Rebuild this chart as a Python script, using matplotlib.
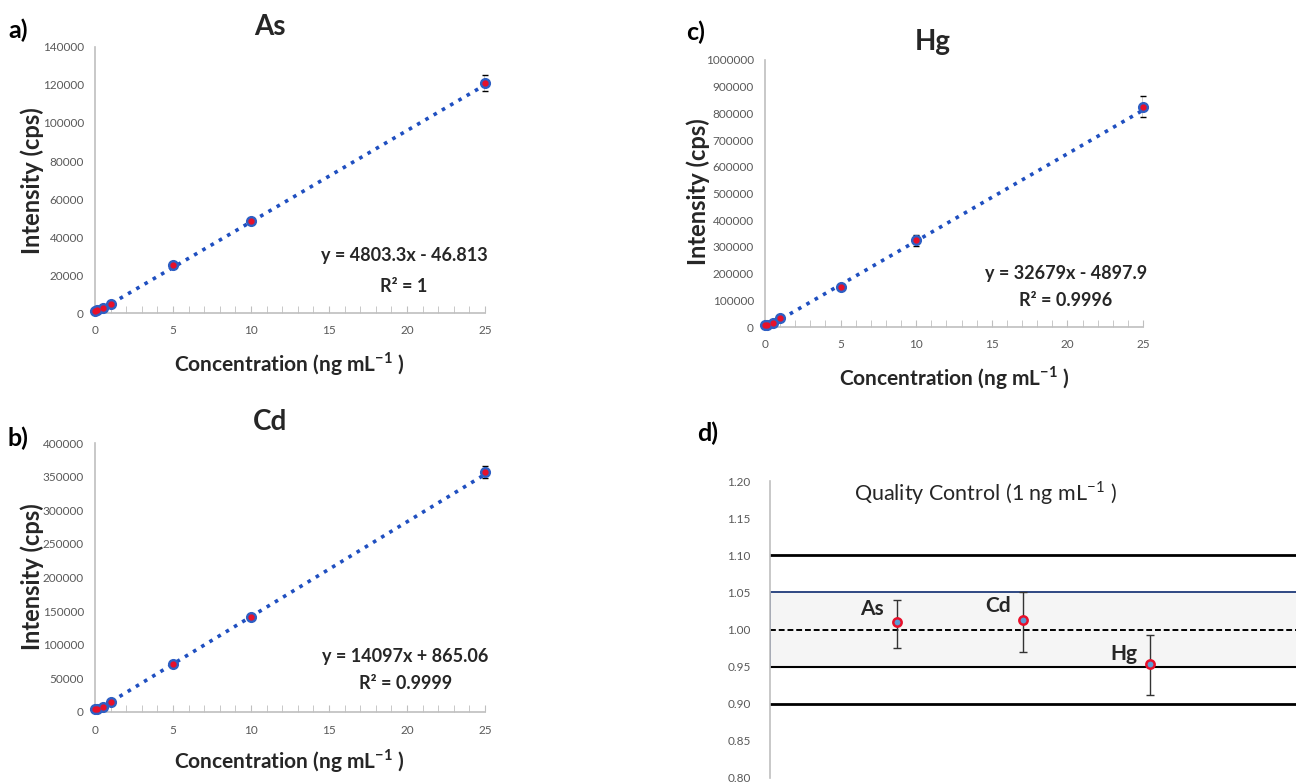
import matplotlib
matplotlib.use("Agg")
import matplotlib.pyplot as plt
import numpy as np
from matplotlib.patches import Rectangle

plt.rcParams['font.family'] = ['Lato', 'DejaVu Sans']
plt.rcParams['mathtext.fontset'] = 'custom'
plt.rcParams['mathtext.rm'] = 'Lato'
plt.rcParams['mathtext.bf'] = 'Lato:bold'

# calibration data
conc = [0, 0.1, 0.5, 1, 5, 10, 25]
as_int = [800, 1500, 2800, 4900, 25500, 48300, 121000]
as_err = [300, 300, 300, 400, 800, 1000, 4000]
cd_int = [4000, 5000, 8000, 15500, 72000, 142000, 357000]
cd_err = [800, 800, 1000, 1500, 3000, 4000, 9000]
hg_int = [8000, 9000, 16000, 33000, 150000, 325000, 825000]
hg_err = [2000, 2000, 3000, 6000, 12000, 20000, 40000]

# trend line coefficients (from the equations shown)
as_fit = (4803.3, -46.813)
cd_fit = (14097, 865.06)
hg_fit = (32679, -4897.9)

# quality control data
qc_names = ['As', 'Cd', 'Hg']
qc_val = [1.010, 1.013, 0.953]
qc_lo = [0.975, 0.970, 0.912]
qc_hi = [1.040, 1.050, 0.993]

W, H = 1296, 783
fig = plt.figure(figsize=(W / 100, H / 100), dpi=100)


def box(l, t, r, b):
    return [l / W, 1 - b / H, (r - l) / W, (b - t) / H]


def ftext(x, y, s, **kw):
    fig.text(x / W, 1 - y / H, s, ha='center', va='center', **kw)


GRAY = '#595959'
SPINE = '#bfbfbf'
DARK = '#262626'
xl = 'Concentration (ng mL$^{\\mathbf{-1}}$ )'


def calib(rect, vals, errs, fit, ymax, ystep, eq, r2, eqpos):
    ax = fig.add_axes(rect)
    xs = np.array([0, 25])
    ax.plot(xs, fit[0] * xs + fit[1], ':', color='#1f4fc0', lw=2.6, zorder=2)
    ax.errorbar(conc, vals, yerr=errs, fmt='none', ecolor='black', elinewidth=1,
                capsize=2.5, zorder=3)
    ax.plot(conc, vals, 'o', color='#2e5fc4', ms=7, zorder=4)
    ax.plot(conc, vals, 'o', color='#e8102a', ms=3.5, zorder=5)
    ax.set_xlim(0, 25)
    ax.set_ylim(0, ymax)
    ax.set_xticks(range(0, 26, 5))
    ax.set_xticks(range(0, 26), minor=True)
    ax.set_yticks(np.arange(0, ymax + 1, ystep))
    ax.set_yticklabels(['%d' % v for v in np.arange(0, ymax + 1, ystep)])
    ax.tick_params(axis='x', which='both', direction='in', length=5, color=SPINE,
                   labelsize=8.5, labelcolor=GRAY, pad=9)
    ax.tick_params(axis='y', length=0, labelsize=8.5, labelcolor=GRAY, pad=8)
    for s in ['top', 'right']:
        ax.spines[s].set_visible(False)
    for s in ['left', 'bottom']:
        ax.spines[s].set_color(SPINE)
        ax.spines[s].set_linewidth(1.2)
    for line in ax.lines:
        line.set_clip_on(False)
    ax.text(eqpos[0], eqpos[1], eq, ha='center', va='center', fontsize=13,
            fontweight='bold', color=DARK)
    ax.text(eqpos[0], eqpos[2], r2, ha='center', va='center', fontsize=13,
            fontweight='bold', color=DARK)
    return ax


calib(box(95, 47, 485, 313), as_int, as_err, as_fit, 140000, 20000,
      'y = 4803.3x - 46.813', 'R² = 1', (19.8, 30000, 14200))
calib(box(95, 443, 485, 712), cd_int, cd_err, cd_fit, 400000, 50000,
      'y = 14097x + 865.06', 'R² = 0.9999', (19.9, 81800, 43100))
calib(box(765, 60, 1143, 327), hg_int, hg_err, hg_fit, 1000000, 100000,
      'y = 32679x - 4897.9', 'R² = 0.9996', (19.9, 202000, 101000))

# panel labels, titles, axis labels
for lab, x, y in [('a)', 18, 30), ('b)', 18, 438), ('c)', 696, 32), ('d)', 708, 433)]:
    ftext(x, y, lab, fontsize=18, fontweight='bold', color='black')
ftext(270, 27, 'As', fontsize=20, fontweight='bold', color=DARK)
ftext(270, 422, 'Cd', fontsize=20, fontweight='bold', color=DARK)
ftext(933, 42, 'Hg', fontsize=20, fontweight='bold', color=DARK)
ftext(289, 364, xl, fontsize=15, fontweight='bold', color=DARK)
ftext(289, 761, xl, fontsize=15, fontweight='bold', color=DARK)
ftext(954, 378, xl, fontsize=15, fontweight='bold', color=DARK)
ftext(32, 181, 'Intensity (cps)', fontsize=17, fontweight='bold', color=DARK,
      rotation=90)
ftext(32, 577, 'Intensity (cps)', fontsize=17, fontweight='bold', color=DARK,
      rotation=90)
ftext(698, 192, 'Intensity (cps)', fontsize=17, fontweight='bold', color=DARK,
      rotation=90)

# quality control panel
ax = fig.add_axes(box(770, 481, 1296, 778))
xq = np.arange(1, len(qc_names) + 1)
ax.set_xlim(0, 4.15)
ax.set_ylim(0.80, 1.20)
ax.add_patch(Rectangle((0, 0.95), 5, 0.10, facecolor='#f5f5f5', edgecolor='#1f3a7a',
                       lw=1.3, zorder=1))
ax.axhline(0.95, color='black', lw=1.5, zorder=2)
ax.axhline(1.10, color='black', lw=2, zorder=2)
ax.axhline(0.90, color='black', lw=2, zorder=2)
ax.axhline(1.00, color='black', lw=1.4, ls=(0, (3, 1.5)), zorder=2)
yerr = [np.array(qc_val) - np.array(qc_lo), np.array(qc_hi) - np.array(qc_val)]
ax.errorbar(xq, qc_val, yerr=yerr, fmt='none', ecolor='#333333', elinewidth=1,
            capsize=3, zorder=3)
ax.plot(xq, qc_val, 'o', mfc='#5b9bd5', mec='#e8102a', mew=1.8, ms=6, zorder=4)
for i, name in enumerate(qc_names):
    dy = 0.018 if name != 'Hg' else 0.014
    ax.text(xq[i] - 0.1, qc_val[i] + dy, name, ha='right', va='center', fontsize=15,
            fontweight='bold', color=DARK)
ax.set_yticks(np.arange(0.80, 1.201, 0.05))
ax.set_yticklabels(['%.2f' % v for v in np.arange(0.80, 1.201, 0.05)])
ax.set_xticks([])
ax.tick_params(axis='y', length=0, labelsize=8.5, labelcolor=GRAY, pad=14)
for s in ['top', 'right', 'bottom']:
    ax.spines[s].set_visible(False)
ax.spines['left'].set_color(SPINE)
ax.spines['left'].set_linewidth(1.2)
ftext(985, 493, 'Quality Control (1 ng mL$^{-1}$ )', fontsize=15.5, color=DARK)

fig.savefig('out.png', dpi=100)
